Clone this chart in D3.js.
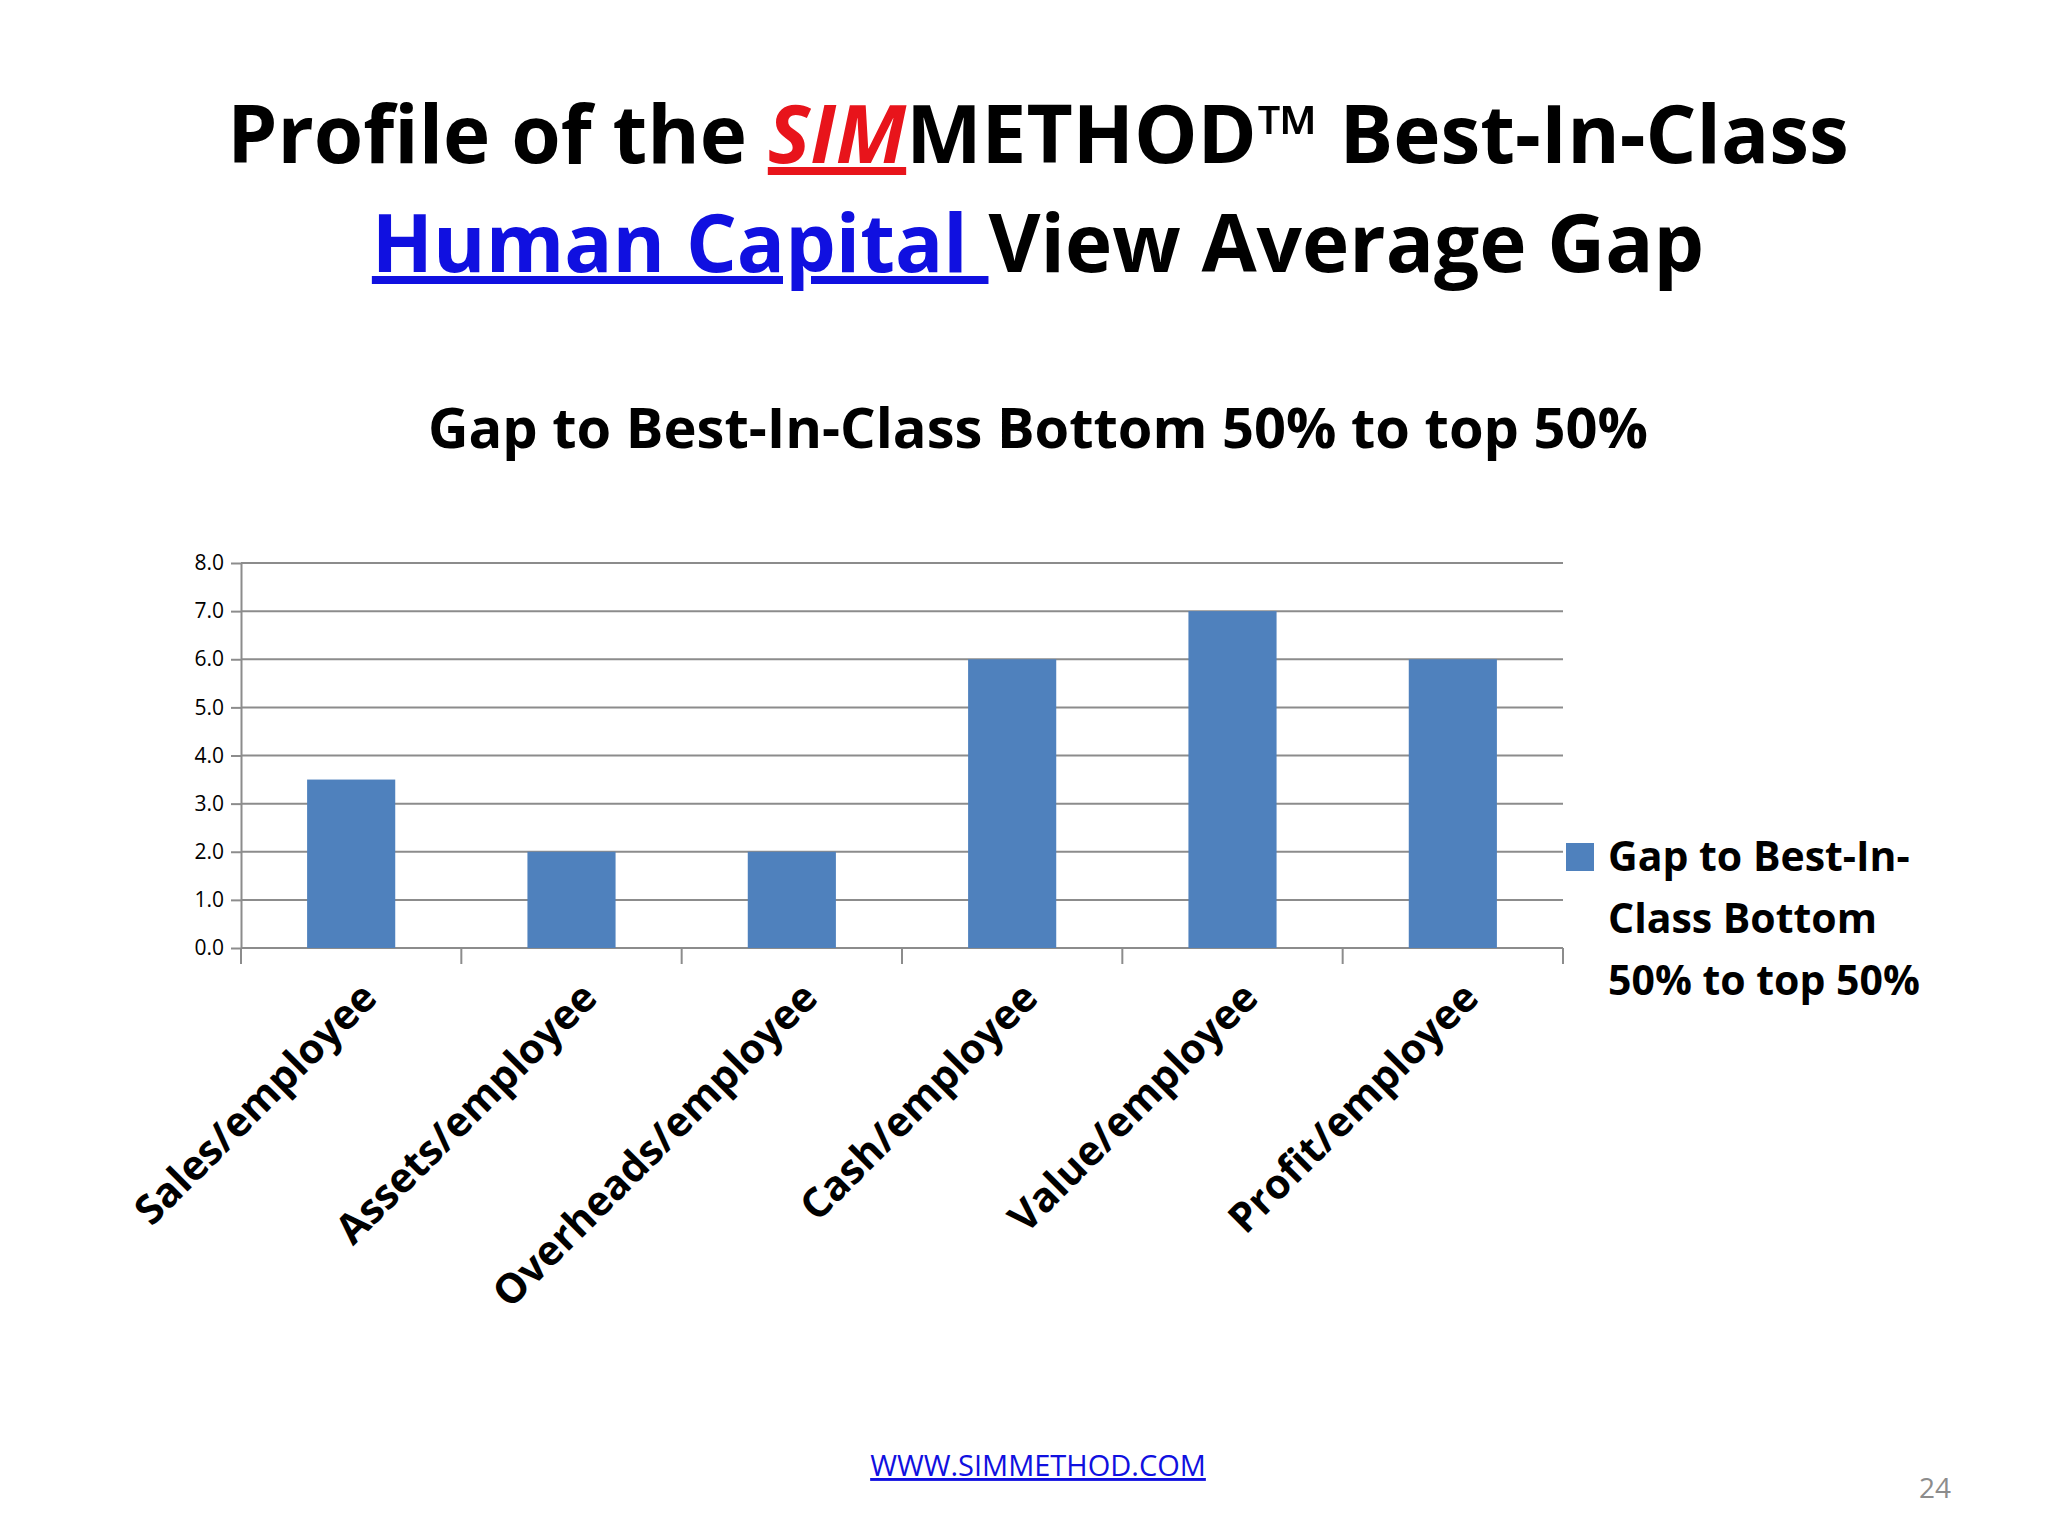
<!DOCTYPE html><html><head><meta charset="utf-8">
<script src="https://cdn.jsdelivr.net/npm/d3@7"></script>
<style>body{margin:0;background:#fff}svg{display:block}</style></head><body>
<script>
const categories=["Sales/employee","Assets/employee","Overheads/employee","Cash/employee","Value/employee","Profit/employee"];
const values=[3.5,2.0,2.0,6.0,7.0,6.0];
const yTicks=[0,1,2,3,4,5,6,7,8];
const seriesName="Gap to Best-In-Class Bottom 50% to top 50%";
const legendLines=["Gap to Best-In-","Class Bottom","50% to top 50%"];

const W=2048,H=1536,F="'Open Sans','Noto Sans',sans-serif";
const svg=d3.select("body").append("svg").attr("width",W).attr("height",H);
const t1=svg.append("text").attr("x",1038).attr("y",163).attr("text-anchor","middle").attr("font-family",F).attr("font-weight",700).attr("font-size",80);
t1.append("tspan").text("Profile of the ");
t1.append("tspan").attr("fill","#e8141b").attr("font-style","italic").attr("text-decoration","underline").text("SIM");
t1.append("tspan").text("METHOD™ Best-In-Class");
const t2=svg.append("text").attr("x",1038).attr("y",272).attr("text-anchor","middle").attr("font-family",F).attr("font-weight",700).attr("font-size",80);
t2.append("tspan").attr("fill","#1010e0").attr("text-decoration","underline").text("Human Capital ");
t2.append("tspan").text("View Average Gap");
svg.append("text").attr("x",1038).attr("y",448).attr("text-anchor","middle").attr("font-family",F).attr("font-weight",700).attr("font-size",56).text(seriesName);

const x0=241,x1=1563,yT=563,yB=948;
const x=d3.scaleBand().domain(categories).range([x0,x1]).paddingInner(0.6).paddingOuter(0.3);
const y=d3.scaleLinear().domain([0,8]).range([yB,yT]);
const g=svg.append("g");
g.selectAll(".grid").data(yTicks).join("line").attr("x1",x0).attr("x2",x1).attr("y1",d=>y(d)).attr("y2",d=>y(d)).attr("stroke","#8c8c8c").attr("stroke-width",2);
g.selectAll(".bar").data(values).join("rect").attr("x",(d,i)=>x(categories[i])).attr("width",x.bandwidth()).attr("y",d=>y(d)).attr("height",d=>yB-y(d)).attr("fill","#4f81bd");
const ya=g.append("g").attr("transform",`translate(${x0},0)`).call(d3.axisLeft(y).tickValues(yTicks).tickFormat(d3.format(".1f")).tickSize(10).tickSizeOuter(0));
ya.select(".domain").attr("stroke","#8c8c8c").attr("stroke-width",2);
ya.selectAll(".tick line").attr("stroke","#8c8c8c").attr("stroke-width",2);
ya.selectAll("text").attr("font-family",F).attr("font-size",21).attr("fill","#000").attr("dx",-4);
// category boundary ticks
const step=(x1-x0)/categories.length;
const bounds=d3.range(categories.length+1).map(i=>x0+i*step);
g.selectAll(".bt").data(bounds).join("line").attr("x1",d=>d).attr("x2",d=>d).attr("y1",yB).attr("y2",yB+16).attr("stroke","#8c8c8c").attr("stroke-width",2);
g.selectAll(".cl").data(categories).join("text").attr("font-family",F).attr("font-weight",700).attr("font-size",41).attr("text-anchor","end")
 .attr("transform",d=>`translate(${x(d)+x.bandwidth()/2+28},${yB+52}) rotate(-45)`).text(d=>d);

svg.append("rect").attr("x",1566).attr("y",843).attr("width",28).attr("height",28).attr("fill","#4f81bd");
svg.selectAll(".lg").data(legendLines).join("text").attr("x",1608).attr("y",(d,i)=>871+i*62).attr("font-family",F).attr("font-weight",700).attr("font-size",41).text(d=>d);

svg.append("text").attr("x",1038).attr("y",1476).attr("text-anchor","middle").attr("font-family",F).attr("font-size",29).attr("fill","#1010e0").attr("text-decoration","underline").text("WWW.SIMMETHOD.COM");
svg.append("text").attr("x",1951).attr("y",1498).attr("text-anchor","end").attr("font-family",F).attr("font-size",28).attr("fill","#8c8c8c").text("24");
</script></body></html>
